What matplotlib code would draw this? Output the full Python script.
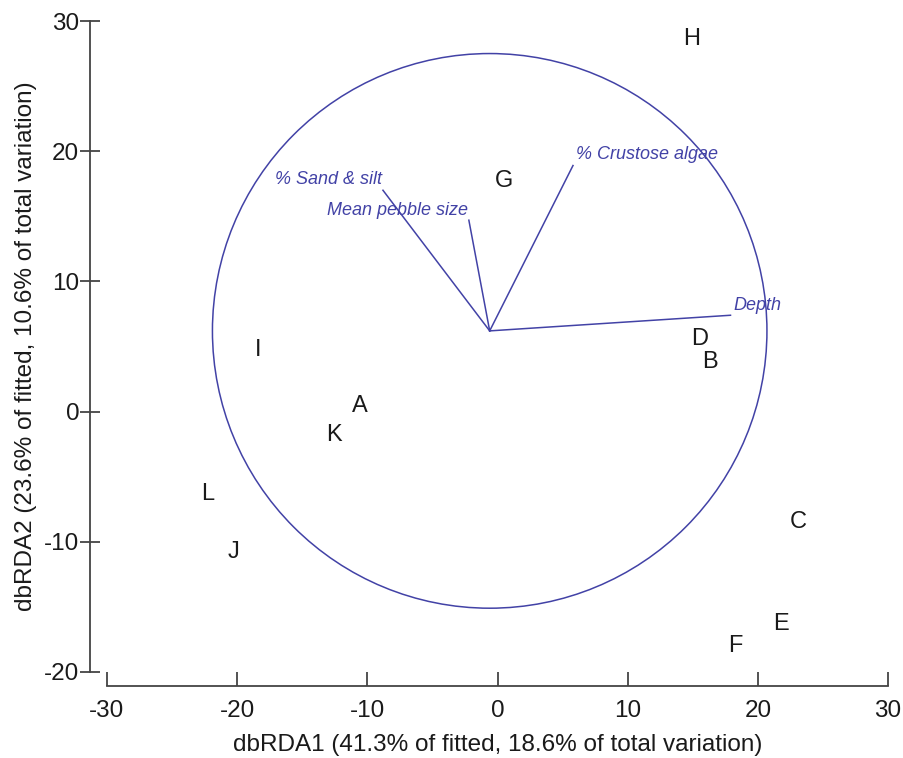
import matplotlib
matplotlib.use("Agg")
import matplotlib.pyplot as plt
from matplotlib.patches import Circle

plt.rcParams['font.family'] = ['Liberation Sans', 'DejaVu Sans']

# Site scores on the first two dbRDA axes
sites = ['A', 'B', 'C', 'D', 'E', 'F', 'G', 'H', 'I', 'J', 'K', 'L']
site_x = [-10.6, 16.3, 23.1, 15.5, 21.8, 18.3, 0.5, 14.9, -18.4, -20.3, -12.6, -22.3]
site_y = [0.4, 3.8, -8.5, 5.6, -16.3, -18.0, 17.7, 28.6, 4.7, -10.8, -1.8, -6.3]

# Predictor vectors (end points), drawn from the common origin
vec_origin = (-0.6, 6.2)
vec_names = ['% Sand & silt', 'Mean pebble size', '% Crustose algae', 'Depth']
vec_x = [-8.8, -2.2, 5.8, 17.9]
vec_y = [17.0, 14.7, 18.9, 7.4]

# Correlation circle radius
circle_radius = 21.3

x_ticks = [-30, -20, -10, 0, 10, 20, 30]
y_ticks = [-20, -10, 0, 10, 20, 30]

x_label = 'dbRDA1 (41.3% of fitted, 18.6% of total variation)'
y_label = 'dbRDA2 (23.6% of fitted, 10.6% of total variation)'

blue = '#4242a6'
axis_col = '#444444'
text_col = '#1a1a1a'

fig = plt.figure(figsize=(9.04, 7.58), dpi=100)
ax = fig.add_axes([107 / 904, 86 / 758, 781 / 904, 651 / 758])
ax.set_xlim(-30, 30)
ax.set_ylim(-20, 30)

# Sample labels
for name, x, y in zip(sites, site_x, site_y):
    ax.text(x, y, name, ha='center', va='center', fontsize=17,
            color=text_col, clip_on=False)

# Circle
ax.add_patch(Circle(vec_origin, circle_radius, fill=False, edgecolor=blue,
                    linewidth=1.1, clip_on=False))

# Vectors and labels
label_align = {
    '% Sand & silt': dict(ha='right', va='bottom', dx=-0.1, dy=0.2),
    'Mean pebble size': dict(ha='right', va='bottom', dx=-0.1, dy=0.1),
    '% Crustose algae': dict(ha='left', va='bottom', dx=0.2, dy=0.2),
    'Depth': dict(ha='left', va='bottom', dx=0.2, dy=0.1),
}
for name, x, y in zip(vec_names, vec_x, vec_y):
    ax.plot([vec_origin[0], x], [vec_origin[1], y], color=blue, linewidth=1.1)
    a = label_align[name]
    ax.text(x + a['dx'], y + a['dy'], name, ha=a['ha'], va=a['va'],
            fontsize=13, style='italic', color=blue)

# Detached axes with crossing ticks on y and inward ticks on x
for side in ['top', 'right']:
    ax.spines[side].set_visible(False)
ax.spines['left'].set_position(('outward', 12))
ax.spines['bottom'].set_position(('outward', 10))
for side in ['left', 'bottom']:
    ax.spines[side].set_color(axis_col)
    ax.spines[side].set_linewidth(1.3)
ax.set_xticks(x_ticks)
ax.set_yticks(y_ticks)
ax.set_xticklabels([str(t) for t in x_ticks])
ax.set_yticklabels([str(t) for t in y_ticks])
ax.tick_params(axis='x', direction='in', length=10, width=1.3, color=axis_col,
               labelsize=17.5, labelcolor=text_col, pad=10)
ax.tick_params(axis='y', direction='inout', length=14, width=1.3, color=axis_col,
               labelsize=17.5, labelcolor=text_col, pad=1)

ax.set_xlabel(x_label, fontsize=17.5, color=text_col, labelpad=9)
ax.set_ylabel(y_label, fontsize=17.5, color=text_col, labelpad=5)

fig.savefig('out.png', dpi=100, facecolor='white')
